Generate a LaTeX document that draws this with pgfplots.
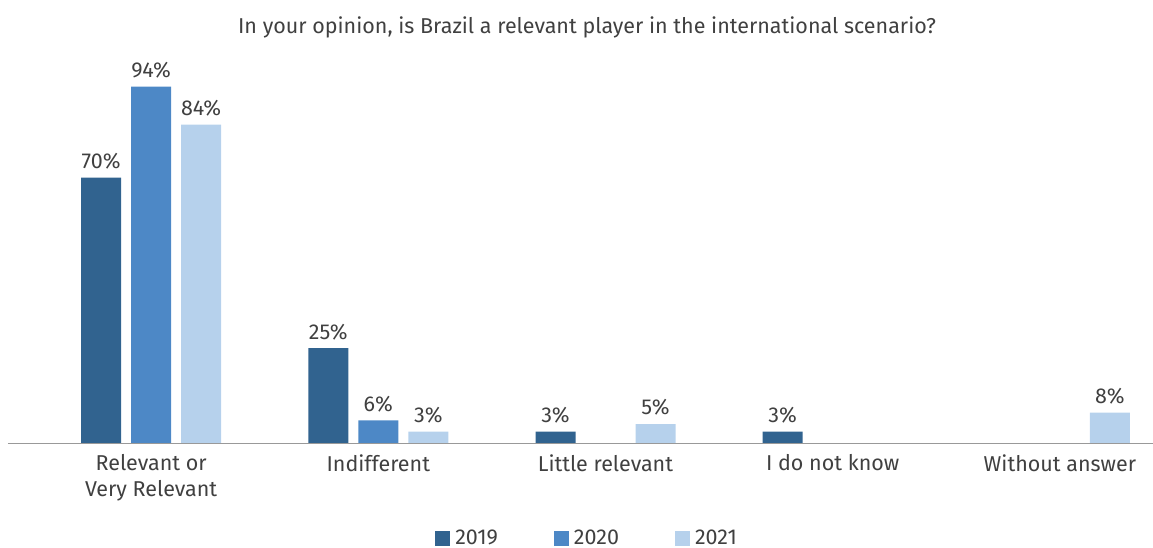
\documentclass[border=0pt]{standalone}
\usepackage{pgfplots}
\pgfplotsset{compat=1.18}
\usepackage{fontspec}
\setmainfont{Fira Sans}
\definecolor{c19}{HTML}{31638F}
\definecolor{c20}{HTML}{4D88C6}
\definecolor{c21}{HTML}{B6D1EC}
\definecolor{txt}{HTML}{404040}
\newcommand{\fs}{\fontsize{21.5}{26}\selectfont}
\begin{document}
\begin{tikzpicture}
\path[use as bounding box] (-8pt,-105pt) rectangle (1145pt,443pt);
\begin{axis}[
    at={(0pt,0pt)}, anchor=south west,
    scale only axis,
    width=1145pt, height=379pt,
    ybar=10pt, bar width=40pt,
    xmin=-0.63, xmax=4.41,
    ymin=0, ymax=100,
    axis x line*=bottom,
    axis y line=none,
    x axis line style={draw=gray!80, line width=0.8pt},
    xtick={0,1,2,3,4},
    xtick style={draw=none},
    xticklabels={{Relevant or\\Very Relevant},Indifferent,Little relevant,I do not know,Without answer},
    xticklabel style={align=center, font=\fs, text=txt, yshift=-4pt},
    /pgf/number format/assume math mode=true,
    nodes near coords={\pgfmathprintnumber{\pgfplotspointmeta}\%},
    every node near coord/.append style={font=\fs, text=txt, yshift=5pt},
    legend columns=3,
    legend style={draw=none, at={(0.5057,-0.2507)}, anchor=center,
        font=\fs, text=txt,
        /tikz/every even column/.append style={column sep=54pt},
        /tikz/every odd column/.append style={column sep=3pt}},
    legend image code/.code={\fill[#1] (0pt,-7.5pt) rectangle (15pt,7.5pt);},
    legend cell align=left,
]
\addplot[fill=c19, draw=none] coordinates {(0,70) (1,25) (2,3) (3,3)};
\addplot[fill=c20, draw=none] coordinates {(0,94) (1,6)};
\addplot[fill=c21, draw=none] coordinates {(0,84) (1,3) (2,5) (4,8)};
\legend{2019,2020,2021}
\end{axis}
\node[font=\fs, text=txt] at (579pt,416pt) {In your opinion, is Brazil a relevant player in the international scenario?};
\end{tikzpicture}
\end{document}
